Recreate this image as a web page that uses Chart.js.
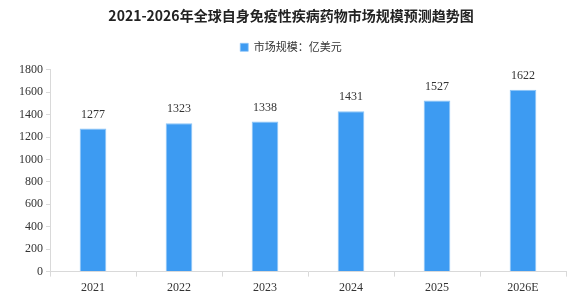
<!DOCTYPE html>
<html>
<head>
<meta charset="utf-8">
<script src="https://cdn.jsdelivr.net/npm/chart.js@4.4.0/dist/chart.umd.min.js"></script>
<style>
    html, body { margin: 0; padding: 0; background: #fff; }
    #wrap { width: 573px; height: 301px; }
</style>
</head>
<body>
<div id="wrap"><canvas id="marketChart"></canvas></div>
<script>
const years = ['2021', '2022', '2023', '2024', '2025', '2026E'];
const marketSize = [1277, 1323, 1338, 1431, 1527, 1622];
const yTicks = [0, 200, 400, 600, 800, 1000, 1200, 1400, 1600, 1800];

const labelFont = "'Liberation Serif', 'DejaVu Serif', serif";
const cjkFont = "'Noto Sans CJK SC', sans-serif";

// values above each bar
const barValues = {
    id: 'barValues',
    afterDatasetsDraw(chart) {
        const { ctx } = chart;
        const meta = chart.getDatasetMeta(0);
        ctx.save();
        ctx.fillStyle = '#333';
        ctx.font = `12px ${labelFont}`;
        ctx.textAlign = 'center';
        ctx.textBaseline = 'bottom';
        meta.data.forEach((bar, i) => {
            ctx.fillText(String(marketSize[i]), bar.x, bar.y - 8);
        });
        ctx.restore();
    },
};

// a bit more room under the legend
const legendGap = {
    id: 'legendGap',
    beforeInit(chart) {
        const origFit = chart.legend.fit;
        chart.legend.fit = function fit() {
            origFit.bind(chart.legend)();
            this.height += 7;
        };
    },
};

new Chart(document.getElementById('marketChart'), {
    type: 'bar',
    data: {
        labels: years,
        datasets: [{
            label: '市场规模：亿美元',
            data: marketSize,
            backgroundColor: '#3d9bf2',
            borderColor: '#8cc4f7',
            borderWidth: { left: 1, right: 1, top: 1, bottom: 0 },
            categoryPercentage: 1,
            barPercentage: 0.31,
        }],
    },
    options: {
        responsive: true,
        maintainAspectRatio: false,
        animation: false,
        layout: { padding: { left: 16, right: 7, top: 5, bottom: 2 } },
        scales: {
            x: {
                grid: {
                    drawOnChartArea: false,
                    color: '#d9d9d9',
                    tickLength: 5,
                },
                border: { color: '#d9d9d9' },
                ticks: {
                    color: '#333',
                    font: { family: labelFont, size: 12 },
                    padding: 4,
                },
            },
            y: {
                min: 0,
                max: 1800,
                afterBuildTicks(axis) {
                    axis.ticks = yTicks.map((v) => ({ value: v }));
                },
                grid: {
                    drawOnChartArea: false,
                    color: '#d9d9d9',
                    tickLength: 4,
                },
                border: { color: '#d9d9d9' },
                ticks: {
                    color: '#333',
                    font: { family: labelFont, size: 12 },
                    padding: 3,
                    callback: (value) => String(value),
                },
            },
        },
        plugins: {
            title: {
                display: true,
                text: '2021-2026年全球自身免疫性疾病药物市场规模预测趋势图',
                color: '#222',
                font: { family: cjkFont, size: 14, weight: 'bold' },
                padding: { top: 2, bottom: 8 },
            },
            legend: {
                labels: {
                    color: '#333',
                    font: { family: cjkFont, size: 11 },
                    boxWidth: 8,
                    boxHeight: 8,
                },
            },
            tooltip: { enabled: false },
        },
    },
    plugins: [barValues, legendGap],
});
</script>
</body>
</html>
